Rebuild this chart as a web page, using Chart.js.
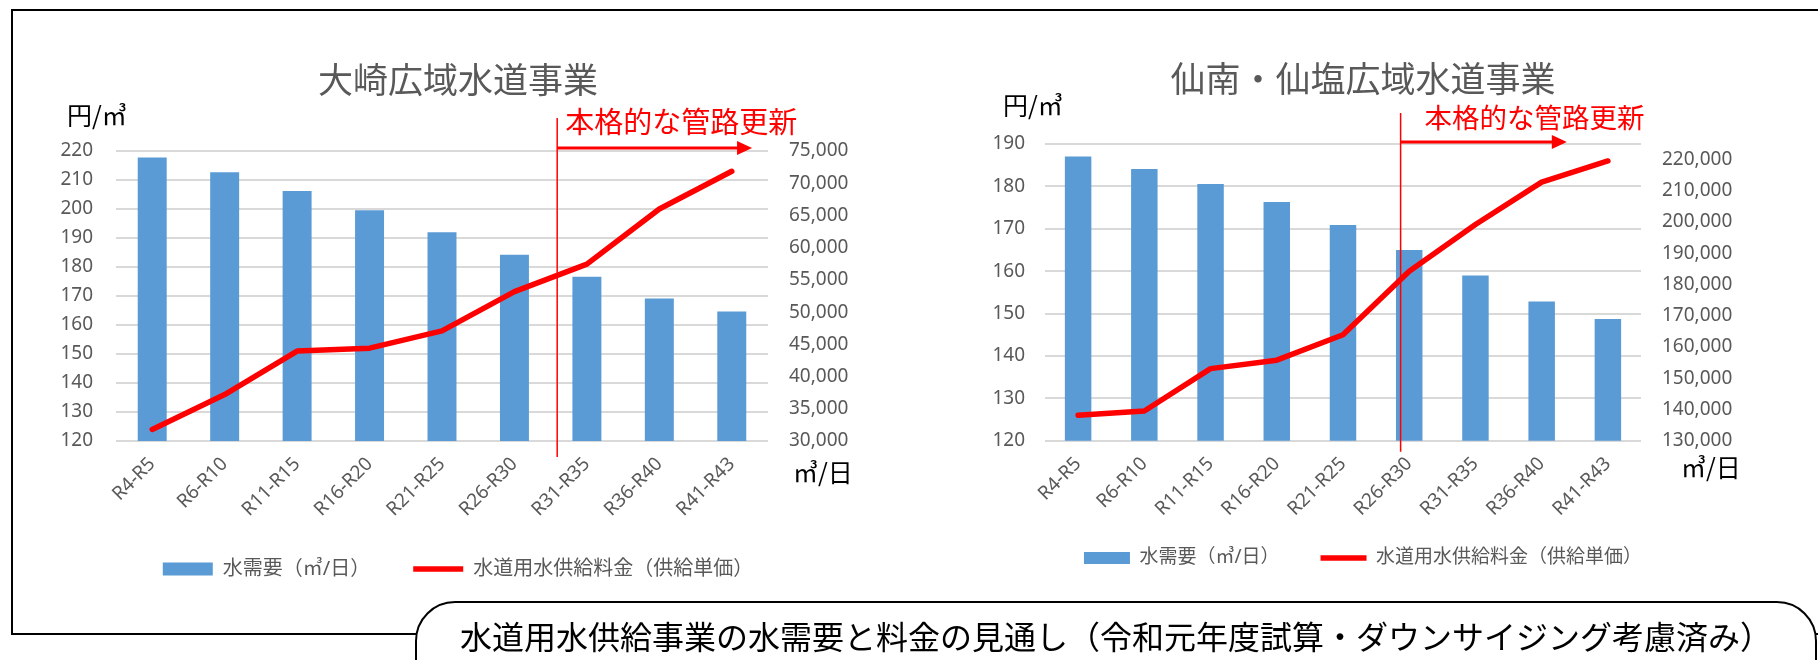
<!DOCTYPE html>
<html lang="ja">
<head>
<meta charset="utf-8">
<script src="https://cdn.jsdelivr.net/npm/chart.js@4.4.0/dist/chart.umd.min.js"></script>
<style>
  html, body { margin: 0; padding: 0; background: #fff; overflow: hidden; }
  #page { position: relative; width: 1818px; height: 660px; overflow: hidden; }
  .frame { position: absolute; left: 11px; top: 9px; width: 1900px; height: 622px;
           border: 2px solid #000; border-right: none; }
  canvas { position: absolute; top: 0; }
  #osaki { left: 16px; }
  #sennan { left: 936px; }
  #caption { position: absolute; left: 415px; top: 601px; width: 1402px; height: 100px;
             box-sizing: border-box; border: 2px solid #000; border-radius: 40px; background: #fff;
             font: 32px "Noto Sans CJK JP", sans-serif; line-height: 38px; text-align: center;
             padding-top: 13px; color: #000; }
</style>
</head>
<body>
<div id="page">
  <div class="frame"></div>
  <canvas id="osaki" width="884" height="660"></canvas>
  <canvas id="sennan" width="854" height="660"></canvas>
  <div id="caption">水道用水供給事業の水需要と料金の見通し（令和元年度試算・ダウンサイジング考慮済み）</div>
</div>
<script>
// 期間
const periods = ['R4-R5', 'R6-R10', 'R11-R15', 'R16-R20', 'R21-R25', 'R26-R30', 'R31-R35', 'R36-R40', 'R41-R43'];

// 大崎広域水道事業
const osakiDemand = [74000, 71700, 68800, 65800, 62400, 58900, 55500, 52100, 50100];
const osakiPrice = [124, 136, 151, 152, 158, 171.5, 181, 200, 213];
const osakiPriceTicks = [120, 130, 140, 150, 160, 170, 180, 190, 200, 210, 220];
const osakiDemandTicks = [30000, 35000, 40000, 45000, 50000, 55000, 60000, 65000, 70000, 75000];

// 仙南・仙塩広域水道事業
const sennanDemand = [221000, 217000, 212200, 206400, 199100, 191100, 182900, 174600, 169000];
const sennanPrice = [126, 127, 137, 139, 145, 160, 171, 181, 186];
const sennanPriceTicks = [120, 130, 140, 150, 160, 170, 180, 190];
const sennanDemandTicks = [130000, 140000, 150000, 160000, 170000, 180000, 190000, 200000, 210000, 220000];
const sennanDemandMax = 225000;

const gray = '#595959';
Chart.defaults.font.family = '"Noto Sans", "Noto Sans CJK JP", sans-serif';
Chart.defaults.color = gray;

// 単位・本格的な管路更新の矢印
const notePlugin = {
  id: 'notes',
  afterLayout(chart, args, o) {
    // 凡例を少し上へ（軸ラベルの領域と重ねる）
    chart.legend.top -= o.legendLift;
    chart.legend.bottom -= o.legendLift;
  },
  afterDraw(chart, args, o) {
    const {ctx, chartArea: a, scales: {x}} = chart;
    ctx.save();
    ctx.textBaseline = 'middle';
    ctx.textAlign = 'left';
    ctx.fillStyle = '#000';
    ctx.font = '25px "Noto Sans CJK JP"';
    ctx.fillText('円/㎥', a.left + o.leftUnit[0], a.top + o.leftUnit[1]);
    ctx.fillText('㎥/日', a.right + o.rightUnit[0], a.bottom + o.rightUnit[1]);

    const mx = x.getPixelForValue(o.markAt);
    ctx.strokeStyle = '#ff0000';
    ctx.lineWidth = 1.5;
    ctx.beginPath();
    ctx.moveTo(mx, a.top + o.markTop);
    ctx.lineTo(mx, a.bottom + o.markBottom);
    ctx.stroke();

    const ax = x.getPixelForValue(o.arrowTo), ay = a.top + o.arrowY;
    ctx.lineWidth = 3;
    ctx.beginPath();
    ctx.moveTo(mx, ay);
    ctx.lineTo(ax - 12, ay);
    ctx.stroke();
    ctx.fillStyle = '#ff0000';
    ctx.beginPath();
    ctx.moveTo(ax, ay);
    ctx.lineTo(ax - 15, ay - 7);
    ctx.lineTo(ax - 15, ay + 7);
    ctx.closePath();
    ctx.fill();

    ctx.font = o.noteSize + 'px "Noto Sans CJK JP"';
    ctx.fillText('本格的な管路更新', mx + o.noteDx, a.top + o.noteDy);
    ctx.restore();
  }
};

function makeChart(id, s) {
  return new Chart(document.getElementById(id), {
    data: {
      labels: periods,
      datasets: [
        {type: 'bar', label: '水需要（㎥/日）', data: s.demand, yAxisID: 'y1', order: 1,
         backgroundColor: '#5b9bd5', categoryPercentage: 0.8, barPercentage: 0.5},
        {type: 'line', label: '水道用水供給料金（供給単価）', data: s.price, yAxisID: 'y', order: 0,
         borderColor: '#ff0000', backgroundColor: '#ff0000', borderWidth: 5.5, pointRadius: 0,
         borderCapStyle: 'round', borderJoinStyle: 'round', tension: 0}
      ]
    },
    plugins: [notePlugin],
    options: {
      responsive: false,
      animation: false,
      layout: {padding: {left: 0, right: 0, top: 0, bottom: s.padBottom}},
      scales: {
        x: {
          grid: {display: false}, border: {display: false},
          ticks: {minRotation: 45, maxRotation: 45, padding: s.xPad, color: gray, font: {size: 19}},
          afterFit: sc => { sc.height = s.xHeight; }
        },
        y: {
          position: 'left',
          min: s.priceTicks[0], max: s.priceTicks[s.priceTicks.length - 1],
          grid: {color: '#d9d9d9', lineWidth: 2, drawTicks: false}, border: {display: false},
          ticks: {padding: s.leftPad, color: gray, font: {size: 19}},
          afterBuildTicks: sc => { sc.ticks = s.priceTicks.map(v => ({value: v})); },
          afterFit: sc => { sc.width = s.leftWidth; }
        },
        y1: {
          position: 'right',
          min: s.demandTicks[0], max: s.demandMax,
          grid: {display: false, drawTicks: false}, border: {display: false},
          ticks: {padding: s.rightPad, color: gray, font: {size: 19},
                  callback: v => v.toLocaleString('en-US')},
          afterBuildTicks: sc => { sc.ticks = s.demandTicks.map(v => ({value: v})); },
          afterFit: sc => { sc.width = s.rightWidth; }
        }
      },
      plugins: {
        title: {display: true, text: s.title, color: gray, font: {size: 35, weight: 'normal'},
                padding: {top: s.titleTop, bottom: s.titleBottom}},
        legend: {
          position: 'bottom',
          labels: {
            usePointStyle: true, pointStyleWidth: s.boxW, boxHeight: s.boxH,
            padding: s.legendPad, color: gray, font: {size: s.legendFont},
            sort: (a, b) => a.datasetIndex - b.datasetIndex,
            generateLabels: chart => Chart.defaults.plugins.legend.labels.generateLabels(chart).map(it => {
              it.pointStyle = it.datasetIndex === 0 ? 'rect' : 'line';
              return it;
            })
          }
        },
        tooltip: {enabled: false},
        notes: s.notes
      }
    }
  });
}

makeChart('osaki', {
  title: '大崎広域水道事業', demand: osakiDemand, price: osakiPrice,
  priceTicks: osakiPriceTicks, demandTicks: osakiDemandTicks,
  demandMax: osakiDemandTicks[osakiDemandTicks.length - 1],
  titleTop: 62, titleBottom: 47, padBottom: 56, xHeight: 90, xPad: 4,
  leftWidth: 100, rightWidth: 132, leftPad: 23, rightPad: 21,
  boxW: 50, boxH: 13, legendPad: 43, legendFont: 20,
  notes: {legendLift: 15, leftUnit: [-49, -36], rightUnit: [25, 31], markAt: 5.59, markTop: -33, markBottom: 16,
          arrowTo: 8.28, arrowY: -3, noteDx: 8, noteDy: -29, noteSize: 29}
});

makeChart('sennan', {
  title: '仙南・仙塩広域水道事業', demand: sennanDemand, price: sennanPrice,
  priceTicks: sennanPriceTicks, demandTicks: sennanDemandTicks, demandMax: sennanDemandMax,
  titleTop: 61, titleBottom: 41, padBottom: 67.3, xHeight: 82, xPad: 4,
  leftWidth: 109, rightWidth: 149, leftPad: 20, rightPad: 21,
  boxW: 46, boxH: 12, legendPad: 41, legendFont: 19,
  notes: {legendLift: 15.2, leftUnit: [-42, -39], rightUnit: [40, 27], markAt: 4.87, markTop: -31, markBottom: 11,
          arrowTo: 7.38, arrowY: -2, noteDx: 24, noteDy: -26, noteSize: 27.5}
});
</script>
</body>
</html>
